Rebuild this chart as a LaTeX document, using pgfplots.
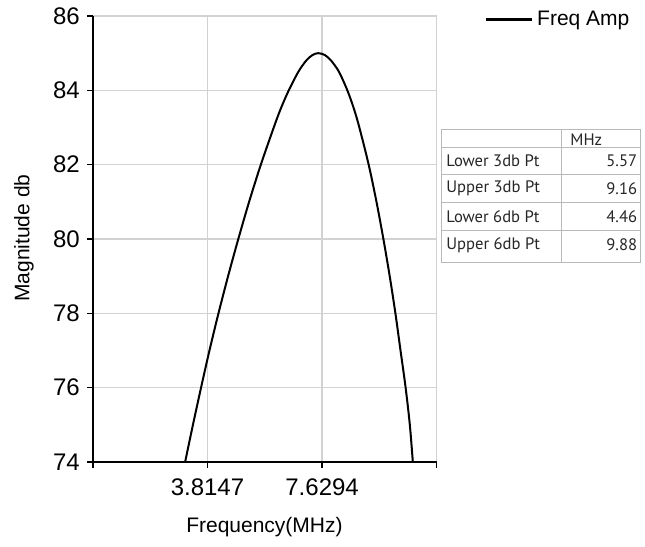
\documentclass[border=0pt]{standalone}
\usepackage{fontspec}
\setmainfont{Liberation Sans}
\newfontfamily\tablefont{PT Sans}
\usepackage{pgfplots}
\pgfplotsset{compat=1.18}
\begin{document}
\begin{tikzpicture}
\path[use as bounding box] (-46.45pt,-42.5pt) rectangle (276.05pt,231pt);
\begin{axis}[
  at={(0,0)}, anchor=south west,
  scale only axis, width=171.9pt, height=223pt,
  xmin=0, xmax=11.4441, ymin=74, ymax=86,
  xtick={0,3.8147,7.6294,11.4441},
  xticklabels={,3.8147,7.6294,},
  ytick={74,76,78,80,82,84,86},
  axis x line*=bottom, axis y line*=left,
  axis line style={line width=1.1pt, -},
  tick align=outside, major tick length=3pt,
  tick style={black, line width=0.8pt},
  grid=major, grid style={gray!35, line width=0.6pt},
  /pgf/number format/assume math mode=true,
  ticklabel style={font=\fontsize{12}{14}\selectfont},
  xticklabel style={yshift=-2pt},
  ylabel={Magnitude db},
  xlabel={Frequency(MHz)},
  label style={font=\fontsize{10.5}{12}\selectfont},
  ylabel style={at={(axis description cs:-0.2004,0.502)}, anchor=center},
  xlabel style={at={(axis description cs:0.499,-0.1457)}, anchor=center},
  legend style={at={(axis description cs:1.1376,0.9926)}, anchor=west,
    draw=none, fill=none, inner sep=0pt,
    font=\fontsize{10.5}{12}\selectfont},
  legend image code/.code={\draw[#1, line width=1.4pt] (0pt,0pt) -- (23pt,0pt);},
]
\addplot[black, line width=1pt, smooth] table {
x y
3.07 74
3.33 75
3.60 76
3.88 77
4.18 78
4.50 79
4.84 80
5.20 81
5.59 82
6.02 83
6.25 83.5
6.52 84
6.84 84.5
7.10 84.8
7.31 84.95
7.50 85.0
7.72 84.95
7.93 84.8
8.19 84.5
8.47 84
8.69 83.5
8.87 83
9.18 82
9.44 81
9.67 80
9.88 79
10.07 78
10.24 77
10.41 76
10.55 75
10.65 74
};
\addlegendentry{Freq Amp}
\end{axis}
% data table box
\begin{scope}[gray!55, line width=0.5pt]
\draw (174.4pt,99.5pt) rectangle (273.9pt,166pt);
\draw (234.4pt,99.5pt) -- (234.4pt,166pt);
\draw (174.4pt,157pt) -- (273.9pt,157pt);
\draw (174.4pt,143.85pt) -- (273.9pt,143.85pt);
\draw (174.4pt,129.85pt) -- (273.9pt,129.85pt);
\draw (174.4pt,115.85pt) -- (273.9pt,115.85pt);
\end{scope}
\begin{scope}[every node/.style={inner sep=0pt, font=\tablefont\fontsize{8.3}{9.5}\selectfont, text=black!85}]
\node[anchor=west] at (238.55pt,161pt) {MHz};
\node[anchor=west] at (176.55pt,150.65pt) {Lower 3db Pt};
\node[anchor=west] at (176.55pt,136.85pt) {Upper 3db Pt};
\node[anchor=west] at (176.55pt,122.65pt) {Lower 6db Pt};
\node[anchor=west] at (176.55pt,108.6pt) {Upper 6db Pt};
\node[anchor=east] at (272.3pt,150.65pt) {5.57};
\node[anchor=east] at (272.3pt,136.85pt) {9.16};
\node[anchor=east] at (272.3pt,122.65pt) {4.46};
\node[anchor=east] at (272.3pt,108.6pt) {9.88};
\end{scope}
\end{tikzpicture}
\end{document}
